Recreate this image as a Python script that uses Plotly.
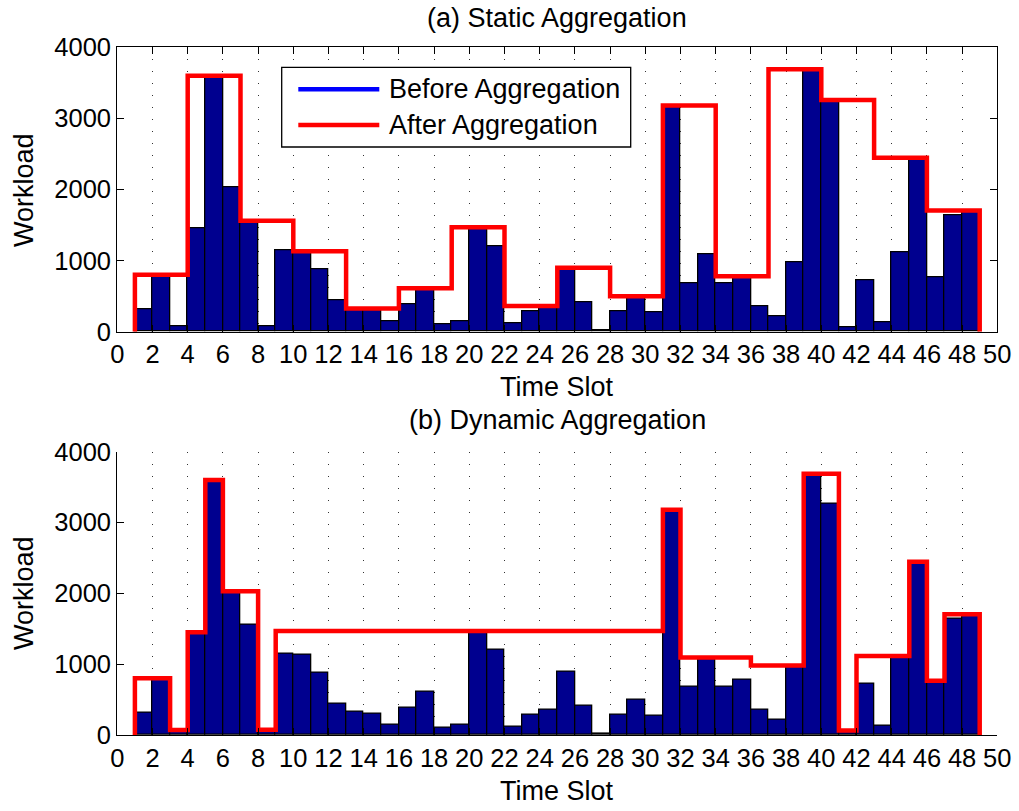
import plotly.graph_objects as go

# Workload per time slot (slot k occupies [k, k+1))
slots = list(range(1, 49))
workload = [320, 800, 70, 1450, 3600, 2030, 1560, 75, 1150, 1130, 880, 440,
            325, 305, 145, 390, 610, 110, 150, 1470, 1205, 115, 290, 360,
            900, 410, 15, 290, 500, 270, 3180, 685, 1095, 675, 780, 355,
            222, 980, 3690, 3260, 65, 730, 135, 1115, 2445, 765, 1640, 1705]

# Static aggregation: fixed windows of three slots
static_edges = [1, 4, 7, 10, 13, 16, 19, 22, 25, 28, 31, 34, 37, 40, 43, 46, 49]
static_levels = [800, 3600, 1560, 1130, 325, 610, 1470, 360, 900, 500,
                 3180, 780, 3690, 3260, 2445, 1705]

# Dynamic aggregation: variable-length windows
dynamic_edges = [1, 3, 4, 5, 6, 8, 9, 31, 32, 36, 39, 41, 42, 45, 46, 47, 49]
dynamic_levels = [800, 70, 1450, 3600, 2030, 75, 1470, 3180, 1095, 980,
                  3690, 65, 1115, 2445, 765, 1705]

x_ticks = list(range(0, 51, 2))
y_ticks = [0, 1000, 2000, 3000, 4000]

W, H = 1019, 811
FONT = "Liberation Sans, Arial, Helvetica, sans-serif"
TICK_FS = 25.5
LABEL_FS = 27
BAR_COLOR = "#00008F"
RED = "#FF0000"


def px(xp):
    return xp / W


def py(yp):
    return 1 - yp / H


def step_xy(edges, levels):
    xs = [edges[0]] + edges
    ys = [0] + levels + [0]
    return xs, ys


fig = go.Figure()

for row, (edges, levels) in enumerate([(static_edges, static_levels),
                                       (dynamic_edges, dynamic_levels)], start=1):
    xa = "x" if row == 1 else "x2"
    ya = "y" if row == 1 else "y2"
    sx, sy = step_xy(edges, levels)
    fig.add_trace(go.Scatter(x=sx, y=sy, mode="lines", line_shape="hv",
                             line=dict(color=RED, width=4.5), xaxis=xa, yaxis=ya,
                             showlegend=False, hoverinfo="skip"))
    fig.add_trace(go.Bar(x=slots, y=workload, offset=0, width=1,
                         marker=dict(color=BAR_COLOR, line=dict(color="black", width=1.3)),
                         xaxis=xa, yaxis=ya, showlegend=False))

x_dom = [px(117.3), px(997.3)]
common_x = dict(range=[0, 50], tickvals=x_ticks, ticks="inside", ticklen=7,
                tickcolor="black", showline=True, linecolor="black", linewidth=1.3,
                showgrid=True, gridcolor="#333333", griddash="1px,11px", gridwidth=1,
                zeroline=False, tickfont=dict(family=FONT, size=TICK_FS, color="black"),
                automargin=False, fixedrange=True)
common_y = dict(range=[0, 4000], tickvals=y_ticks, ticks="inside", ticklen=7,
                tickcolor="black", showline=True, linecolor="black", linewidth=1.3,
                showgrid=False, zeroline=False, automargin=False,
                tickfont=dict(family=FONT, size=TICK_FS, color="black"), fixedrange=True)

fig.update_layout(
    width=W, height=H, margin=dict(l=0, r=0, t=0, b=0, autoexpand=False),
    paper_bgcolor="white", plot_bgcolor="white", bargap=0,
    font=dict(family=FONT, size=TICK_FS, color="black"),
    xaxis=dict(domain=x_dom, anchor="y", mirror="ticks", **common_x),
    yaxis=dict(domain=[py(331.7), py(47.3)], anchor="x", mirror="ticks", **common_y),
    xaxis2=dict(domain=x_dom, anchor="y2", mirror=False, **common_x),
    yaxis2=dict(domain=[py(735), py(451.7)], anchor="x2", mirror=False, **common_y),
)

annotations = [
    dict(text="(a) Static Aggregation", x=px(557), y=py(18)),
    dict(text="Time Slot", x=px(557), y=py(387)),
    dict(text="(b) Dynamic Aggregation", x=px(557), y=py(420)),
    dict(text="Time Slot", x=px(557), y=py(791)),
    dict(text="Workload", x=px(24), y=py(190), textangle=-90),
    dict(text="Workload", x=px(24), y=py(593), textangle=-90),
]
for a in annotations:
    fig.add_annotation(xref="paper", yref="paper", xanchor="center", yanchor="middle",
                       showarrow=False, font=dict(family=FONT, size=LABEL_FS, color="black"), **a)

# Legend box for the static panel
fig.add_shape(type="rect", xref="paper", yref="paper",
              x0=px(281.7), x1=px(630.7), y0=py(147), y1=py(67.3),
              line=dict(color="black", width=1.3), fillcolor="white", layer="above")
legend_items = [("Before Aggregation", "#0000FF", 89.3),
                ("After Aggregation", RED, 125)]
for label, color, yl in legend_items:
    fig.add_shape(type="line", xref="paper", yref="paper",
                  x0=px(298.3), x1=px(379.3), y0=py(yl), y1=py(yl),
                  line=dict(color=color, width=4.5), layer="above")
    fig.add_annotation(xref="paper", yref="paper", x=px(387), y=py(yl),
                       xanchor="left", yanchor="middle", text=label, showarrow=False,
                       font=dict(family=FONT, size=LABEL_FS, color="black"))

fig.write_html("out.html")
